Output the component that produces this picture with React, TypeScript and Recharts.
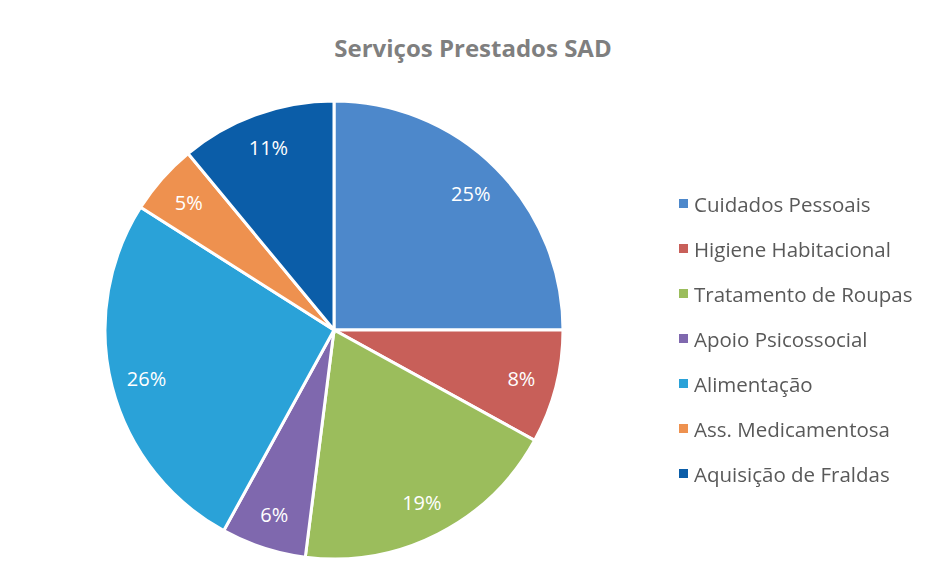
import React from 'react';
import { PieChart, Pie, Cell, Legend } from 'recharts';

const categories = [
  'Cuidados Pessoais',
  'Higiene Habitacional',
  'Tratamento de Roupas',
  'Apoio Psicossocial',
  'Alimentação',
  'Ass. Medicamentosa',
  'Aquisição de Fraldas',
];
const shares = [25, 8, 19, 6, 26, 5, 11];
const colors = ['#4d88cb', '#c85f59', '#9bbd5c', '#7f68ae', '#2aa2d8', '#ee914f', '#0b5da8'];

const data = categories.map((name, i) => ({ name, value: shares[i] }));

const RAD = Math.PI / 180;
const FONT = '"Open Sans", "DejaVu Sans", sans-serif';

const renderLabel = (props: any) => {
  const { cx, cy, midAngle, outerRadius, value } = props;
  const r = outerRadius * 0.845;
  const x = cx + r * Math.cos(-midAngle * RAD);
  const y = cy + r * Math.sin(-midAngle * RAD);
  return (
    <text x={x} y={y} fill="#ffffff" textAnchor="middle" dominantBaseline="central" fontSize={20} fontFamily={FONT}>
      {value}%
    </text>
  );
};

const renderLegend = () => (
  <div style={{ fontFamily: FONT }}>
    {data.map((d, i) => (
      <div key={d.name} style={{ height: 45, display: 'flex', alignItems: 'center' }}>
        <span style={{ width: 9, height: 9, background: colors[i], marginRight: 6, display: 'inline-block' }} />
        <span style={{ fontSize: 20.5, color: '#595959' }}>{d.name}</span>
      </div>
    ))}
  </div>
);

export default function App() {
  return (
    <div style={{ position: 'fixed', left: 0, top: 0, width: 928, height: 586, background: '#fff' }}>
      <div
        style={{
          position: 'absolute',
          left: 0,
          width: 946,
          top: 31,
          textAlign: 'center',
          fontFamily: FONT,
          fontWeight: 700,
          fontSize: 24,
          color: '#7f7f7f',
        }}
      >
        Serviços Prestados SAD
      </div>
      <PieChart width={928} height={586}>
        <Pie
          data={data}
          dataKey="value"
          nameKey="name"
          cx={329}
          cy={325}
          outerRadius={229}
          startAngle={90}
          endAngle={-270}
          stroke="#ffffff"
          strokeWidth={3}
          label={renderLabel}
          labelLine={false}
          isAnimationActive={false}
        >
          {data.map((d, i) => (
            <Cell key={d.name} fill={colors[i]} />
          ))}
        </Pie>
        <Legend
          content={renderLegend}
          layout="vertical"
          wrapperStyle={{ position: 'absolute', left: 679, top: 181, width: 250 }}
        />
      </PieChart>
    </div>
  );
}
